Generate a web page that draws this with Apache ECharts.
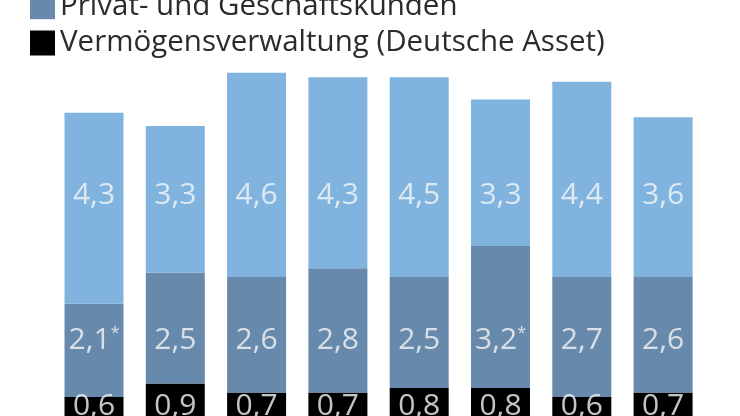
<!DOCTYPE html>
<html>
<head>
<meta charset="utf-8">
<script src="https://cdn.jsdelivr.net/npm/echarts@6/dist/echarts.min.js"></script>
<style>
html,body{margin:0;padding:0;background:#fff;}
#c{width:740px;height:416px;}
</style>
</head>
<body>
<div id="c"></div>
<script>
// Data
var categories = ['1', '2', '3', '4', '5', '6', '7', '8'];
var assetMgmt = [0.6, 0.9, 0.7, 0.7, 0.8, 0.8, 0.6, 0.7];      // Vermögensverwaltung (Deutsche Asset)
var privateCust = [2.1, 2.5, 2.6, 2.8, 2.5, 3.2, 2.7, 2.6];    // Privat- und Geschäftskunden
var corpInvest = [4.3, 3.3, 4.6, 4.3, 4.5, 3.3, 4.4, 3.6];     // Unternehmens- und Investmentbank
var privateNotes = ['*', '', '', '', '', '*', '', ''];
var seriesNames = ['Vermögensverwaltung (Deutsche Asset)', 'Privat- und Geschäftskunden', 'Unternehmens- und Investmentbank'];

// fixed label rows (in value units of the y axis)
var LABEL_ROW_TOP = 5.13, LABEL_ROW_MID = 1.88, LABEL_ROW_BOT = 0.39;

function fmt(v) { return String(v.toFixed(1)).replace('.', ','); }

var C_BLACK = '#000000', C_MID = '#6789ab', C_LIGHT = '#80b3de';

function labelSeries(values, row, notes) {
  return {
    type: 'scatter',
    symbolSize: 0,
    silent: true,
    z: 10,
    data: values.map(function (v, i) {
      var t = '{v|' + fmt(v) + '}';
      if (notes && notes[i]) t += '{n|' + notes[i] + '}';
      return { value: [i, row], text: t };
    }),
    label: {
      show: true,
      position: 'inside',
      formatter: function (p) { return p.data.text; },
      rich: {
        v: { color: '#f4f6f8', fontFamily: 'Open Sans', fontSize: 30 },
        n: { color: '#f4f6f8', fontFamily: 'Open Sans', fontSize: 16, verticalAlign: 'top', padding: [0, 0, 14, 0] }
      }
    }
  };
}

var chart = echarts.init(document.getElementById('c'));
chart.setOption({
  animation: false,
  backgroundColor: '#ffffff',
  legend: {
    data: [seriesNames[1], seriesNames[0]],
    orient: 'vertical',
    left: 30,
    top: -8.3,
    padding: 0,
    itemWidth: 25,
    itemHeight: 25,
    itemGap: 6.3,
    icon: 'rect',
    textStyle: { fontFamily: 'Open Sans', fontSize: 29.5, color: '#2b2b2b', padding: [0, 0, 0, 0] },
    selectedMode: false
  },
  grid: { left: 53.35, width: 650.4, top: 24, bottom: 0 },
  xAxis: {
    type: 'category',
    data: categories,
    show: false
  },
  // the bars continue below the lower edge of the picture: the visible part starts at 0.17
  yAxis: { type: 'value', min: 0.17, max: 9, show: false },
  series: [
    { name: seriesNames[0], type: 'bar', stack: 's', barWidth: 59, clip: true, data: assetMgmt, itemStyle: { color: C_BLACK } },
    { name: seriesNames[1], type: 'bar', stack: 's', barWidth: 59, clip: true, data: privateCust, itemStyle: { color: C_MID } },
    { name: seriesNames[2], type: 'bar', stack: 's', barWidth: 59, clip: true, data: corpInvest, itemStyle: { color: C_LIGHT } },
    labelSeries(corpInvest, LABEL_ROW_TOP),
    labelSeries(privateCust, LABEL_ROW_MID, privateNotes),
    labelSeries(assetMgmt, LABEL_ROW_BOT)
  ]
});
</script>
</body>
</html>
